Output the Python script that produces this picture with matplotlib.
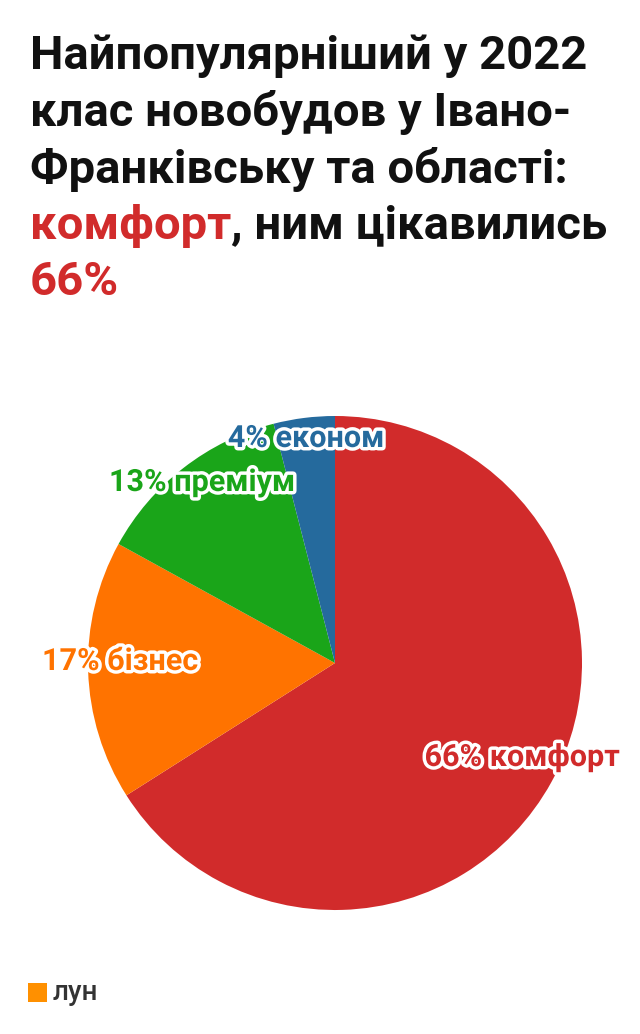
import numpy as np
import matplotlib.pyplot as plt
import matplotlib.patheffects as pe

categories = ["комфорт", "бізнес", "преміум", "економ"]
shares = [66, 17, 13, 4]
colors = ["#d12b2b", "#ff7300", "#1aa519", "#256a9d"]
# label centres in pixels (x, y from top)
label_pos = [(522, 757), (120, 661), (202, 482), (306, 438)]

W, H = 640, 1034
fig = plt.figure(figsize=(W / 100, H / 100), dpi=100)
ax = fig.add_axes([0, 0, 1, 1])

ax.pie(shares, colors=colors, startangle=90, counterclock=False,
       center=(335, H - 663), radius=247, frame=True,
       wedgeprops=dict(linewidth=0))
ax.set_xlim(0, W)
ax.set_ylim(0, H)
ax.set_aspect("equal")
ax.axis("off")

for cat, val, col, (px, py) in zip(categories, shares, colors, label_pos):
    ax.text(px, H - py, f"{val}% {cat}", color=col, fontsize=22, fontweight="bold",
            family="Roboto", ha="center", va="center",
            path_effects=[pe.withStroke(linewidth=5, foreground="white")])

# title
title_lines = [
    [("Найпопулярніший у 2022", "#111111")],
    [("клас новобудов у Івано-", "#111111")],
    [("Франківську та області:", "#111111")],
    [("комфорт", "#d12b2b"), (", ним цікавились", "#111111")],
    [("66%", "#d12b2b")],
]
y = 56
for line in title_lines:
    x = 30
    for txt, col in line:
        t = fig.text(x / W, 1 - y / H, txt, color=col, fontsize=34, fontweight="bold",
                     family="Roboto", ha="left", va="center")
        fig.canvas.draw()
        bb = t.get_window_extent()
        x += bb.width
    y += 56.5

# logo
ax.add_patch(plt.Rectangle((28, H - 1002), 19, 19, color="#ff9000", lw=0))
fig.text(53 / W, 1 - 992 / H, "лун", color="#333333", fontsize=20, fontweight="medium",
         family="Roboto", ha="left", va="center")

fig.savefig("out.png", dpi=100)
